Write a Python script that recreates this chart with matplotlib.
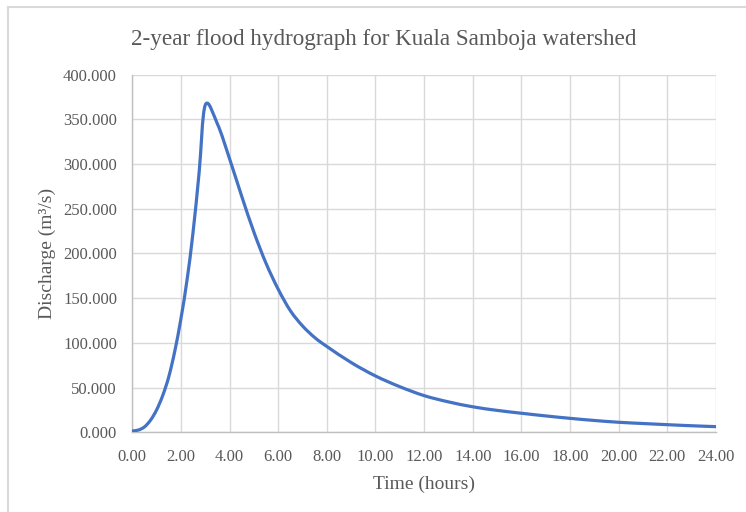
import matplotlib
matplotlib.use("Agg")
import matplotlib.pyplot as plt
from matplotlib.path import Path
from matplotlib.patches import PathPatch
from matplotlib.lines import Line2D
import numpy as np

# Hydrograph ordinates: time (hours) and discharge (m3/s)
time_hours = [0.0, 0.25, 0.5, 0.75, 1.0, 1.25, 1.5, 1.75, 2.0, 2.25, 2.5, 2.75,
              3.0, 3.5, 4.0, 4.5, 5.0, 5.5, 6.0, 6.5, 7.0, 7.5, 8.0, 9.0,
              10.0, 11.0, 12.0, 13.0, 14.0, 15.0, 16.0, 17.0, 18.0, 19.0,
              20.0, 21.0, 22.0, 23.0, 24.0]
discharge = [1.5, 2.5, 6.0, 13.5, 25.0, 41.0, 62.0, 91.0, 127.0, 170.0, 224.0, 291.0,
             366.0, 345.0, 306.0, 264.0, 224.0, 189.0, 160.0, 136.0, 119.0, 106.0, 96.0, 78.0,
             63.0, 51.0, 41.0, 34.0, 28.5, 24.5, 21.3, 18.3, 15.6, 13.2,
             11.2, 9.8, 8.5, 7.3, 6.3]

x_ticks = [0, 2, 4, 6, 8, 10, 12, 14, 16, 18, 20, 22, 24]
y_ticks = [0, 50, 100, 150, 200, 250, 300, 350, 400]

title = "2-year flood hydrograph for Kuala Samboja watershed"
x_label = "Time (hours)"
y_label = "Discharge (m\u00b3/s)"

text_color = "#595959"
grid_color = "#D9D9D9"
line_color = "#4472C4"

plt.rcParams["font.family"] = ["Liberation Serif", "DejaVu Serif"]

fig = plt.figure(figsize=(7.46, 5.12), dpi=100)
ax = fig.add_axes([0.1773, 0.1557, 0.9598 - 0.1773, 0.8541 - 0.1557])

# Smoothed line (Catmull-Rom style cubic Bezier segments through the ordinates)
pts = np.column_stack([time_hours, discharge])
verts = [tuple(pts[0])]
codes = [Path.MOVETO]
n = len(pts)
for i in range(n - 1):
    p_prev = pts[i - 1] if i > 0 else pts[i]
    p0 = pts[i]
    p1 = pts[i + 1]
    p_next = pts[i + 2] if i + 2 < n else pts[i + 1]
    c1 = p0 + (p1 - p_prev) / 6.0
    c2 = p1 - (p_next - p0) / 6.0
    verts += [tuple(c1), tuple(c2), tuple(p1)]
    codes += [Path.CURVE4, Path.CURVE4, Path.CURVE4]
curve = PathPatch(Path(verts, codes), facecolor="none", edgecolor=line_color,
                  linewidth=2.3, capstyle="round", joinstyle="round", zorder=3)
ax.add_patch(curve)

ax.set_xlim(0, 24)
ax.set_ylim(0, 400)
ax.set_xticks(x_ticks)
ax.set_yticks(y_ticks)
ax.set_xticklabels([f"{v:.2f}" for v in x_ticks])
ax.set_yticklabels([f"{v:.3f}" for v in y_ticks])
ax.tick_params(axis="both", length=0, labelsize=12, colors=text_color)
ax.tick_params(axis="x", pad=12)
ax.tick_params(axis="y", pad=11)

ax.grid(True, color=grid_color, linewidth=1.0, zorder=0)
ax.set_axisbelow(True)
for side in ("top", "right"):
    ax.spines[side].set_visible(False)
for side in ("left", "bottom"):
    ax.spines[side].set_color("#BFBFBF")
    ax.spines[side].set_linewidth(1.0)

ax.set_xlabel(x_label, fontsize=14, color=text_color, labelpad=8)
ax.set_ylabel(y_label, fontsize=14, color=text_color, labelpad=5)
fig.text(0.5147, 1 - 40 / 512, title, fontsize=16.7, color=text_color,
         ha="center", va="center")

# Chart frame along the top and left edges
fig.add_artist(Line2D([8 / 746, 8 / 746], [0, 1 - 7 / 512], transform=fig.transFigure,
                      color=grid_color, linewidth=1.5))
fig.add_artist(Line2D([8 / 746, 1], [1 - 7 / 512, 1 - 7 / 512], transform=fig.transFigure,
                      color=grid_color, linewidth=1.5))

fig.savefig("out.png", dpi=100, facecolor="white")
